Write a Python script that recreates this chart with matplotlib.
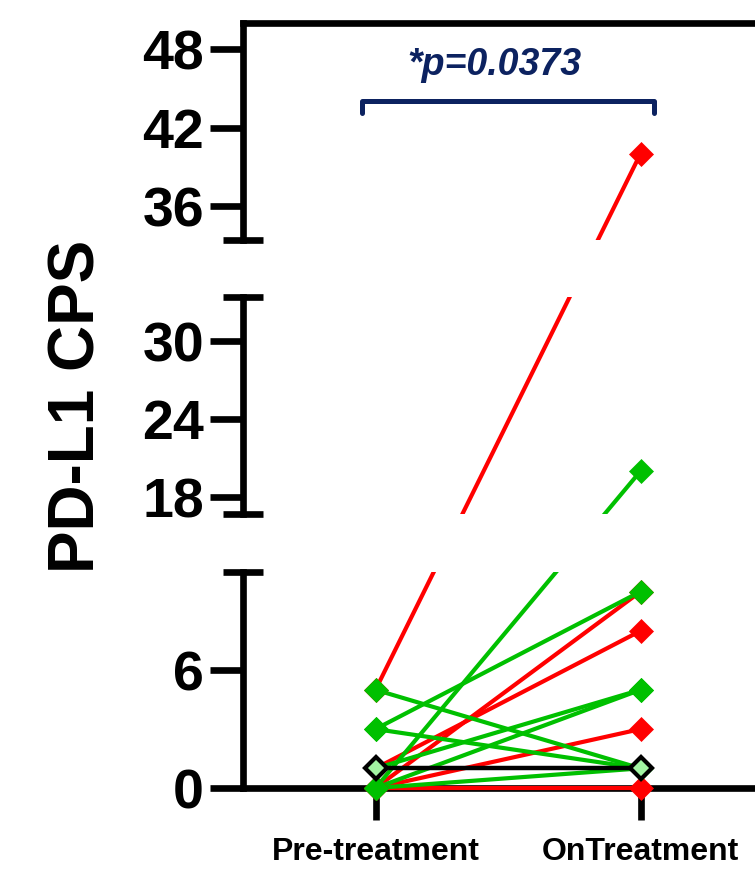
import matplotlib
matplotlib.use('Agg')
import matplotlib.pyplot as plt
from matplotlib.lines import Line2D
from matplotlib.patches import Rectangle

# ---------------- data ----------------
categories = ['Pre-treatment', 'OnTreatment']
red_pre = [5, 0, 1, 0, 0]
red_on = [40, 10, 8, 3, 0]
green_pre = [0, 3, 0, 1, 5, 3, 0]
green_on = [20, 10, 5, 5, 1, 1, 1]
ref_pre = [1]
ref_on = [1]
top_ticks = [36, 42, 48]
mid_ticks = [18, 24, 30]
low_ticks = [0, 6]
top_lim = (33.4, 50)
mid_lim = (16.7, 33.4)
low_lim = (0, 11)
p_text = '*p=0.0373'
y_label = 'PD-L1 CPS'

# ---------------- style ----------------
plt.rcParams['font.family'] = ['Liberation Sans', 'DejaVu Sans']
plt.rcParams['font.weight'] = 'bold'
RED = '#ff0000'
GREEN = '#00c000'
LIGHT = '#a3f5a3'
NAVY = '#0c2260'
LW_AX = 4.8

W, H = 755, 872
fig = plt.figure(figsize=(W / 100, H / 100), dpi=100)


def px_axes(top, bottom, left=243, right=773):
    return fig.add_axes([left / W, 1 - bottom / H, (right - left) / W, (bottom - top) / H])


ax_top = px_axes(23, 240)
ax_mid = px_axes(297, 514)
ax_low = px_axes(572, 788)
axes_list = [ax_top, ax_mid, ax_low]

for ax, lim, ticks in zip(axes_list, [top_lim, mid_lim, low_lim], [top_ticks, mid_ticks, low_ticks]):
    ax.set_xlim(-0.5, 1.5)
    ax.set_ylim(*lim)
    ax.set_yticks(ticks)
    ax.set_yticklabels([str(t) for t in ticks])
    ax.patch.set_visible(False)
    for s in ['top', 'right', 'bottom', 'left']:
        ax.spines[s].set_visible(False)
        ax.spines[s].set_linewidth(LW_AX)
        ax.spines[s].set_capstyle('projecting')
    ax.spines['left'].set_visible(True)
    ax.tick_params(axis='y', which='major', direction='out', length=24, width=LW_AX,
                   labelsize=40, pad=4, colors='black')
    ax.tick_params(axis='y', which='minor', direction='inout', length=29, width=LW_AX)
    ax.tick_params(axis='x', bottom=False, labelbottom=False)

# segment end caps
ax_top.set_yticks([top_lim[0]], minor=True)
ax_mid.set_yticks([mid_lim[0], mid_lim[1]], minor=True)
ax_low.set_yticks([low_lim[1]], minor=True)

ax_top.spines['top'].set_visible(True)
ax_low.spines['bottom'].set_visible(True)
ax_low.set_xticks([0, 1])
ax_low.set_xticklabels(categories, fontsize=23, fontweight='bold')
ax_low.tick_params(axis='x', bottom=True, labelbottom=True, direction='out',
                   length=23, width=LW_AX, pad=12)


def seg_for(v):
    for ax in axes_list:
        lo, hi = ax.get_ylim()
        if lo <= v <= hi:
            return ax
    return ax_low


to_fig = fig.transFigure.inverted()


def connect(p, o, color, lw, z):
    a = seg_for(p).transData.transform((0, p))
    b = seg_for(o).transData.transform((1, o))
    fa, fb = to_fig.transform([a, b])
    for ax in axes_list:
        ln = Line2D([fa[0], fb[0]], [fa[1], fb[1]], transform=fig.transFigure,
                    color=color, lw=lw, zorder=z, solid_capstyle='butt')
        ax.add_line(ln)
        ext = 0.1 if ax is ax_low else 0.0
        clip = Rectangle((-0.2, -ext), 1.4, 1 + ext, transform=ax.transAxes)
        ln.set_clip_path(clip)


for p, o in zip(red_pre, red_on):
    connect(p, o, RED, 3.0, 3)
for p, o in zip(green_pre, green_on):
    connect(p, o, GREEN, 3.0, 3.1)
for p, o in zip(ref_pre, ref_on):
    connect(p, o, 'black', 3.2, 3.2)


def markers(vals, x, z, **kw):
    for ax in axes_list:
        sel = [v for v in vals if seg_for(v) is ax]
        if sel:
            ax.plot([x] * len(sel), sel, 'D', linestyle='none', clip_on=False, zorder=z, **kw)


markers(red_pre, 0, 5, ms=11.8, color=RED, mec=RED, mew=0.5)
markers(red_on, 1, 5, ms=11.8, color=RED, mec=RED, mew=0.5)
markers(green_pre, 0, 5.1, ms=11.8, color=GREEN, mec=GREEN, mew=0.5)
markers(green_on, 1, 5.1, ms=11.8, color=GREEN, mec=GREEN, mew=0.5)
markers(ref_pre, 0, 5.2, ms=11.0, color=LIGHT, mec='black', mew=3.0)
markers(ref_on, 1, 5.2, ms=11.0, color=LIGHT, mec='black', mew=3.0)

# significance bracket
ax_top.plot([-0.05, -0.05, 1.05, 1.05], [43.1, 44.0, 44.0, 43.1], color=NAVY, lw=3.6,
            solid_joinstyle='round', solid_capstyle='round', clip_on=False, zorder=4)
ax_top.text(0.45, 46.0, p_text, ha='center', va='baseline', fontsize=27,
            fontstyle='italic', fontweight='bold', color=NAVY)

fig.text(78 / W, 1 - 406 / H, y_label, rotation=90, ha='center', va='center',
         fontsize=46, fontweight='bold')

fig.savefig('out.png', dpi=100)
